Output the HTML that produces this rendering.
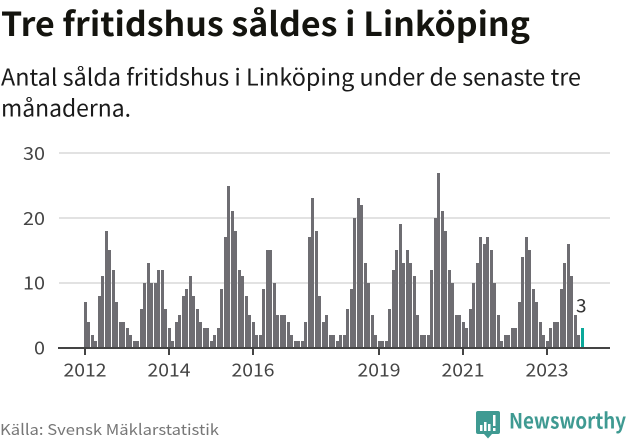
<!DOCTYPE html>
<html lang="sv">
<head>
<meta charset="utf-8">
<title>Tre fritidshus såldes i Linköping</title>
<style>
html,body{margin:0;padding:0;background:#fff;width:631px;height:439px;overflow:hidden}
svg{display:block}
text{font-family:"Noto Sans CJK SC","Liberation Sans",sans-serif}
</style>
</head>
<body>
<svg id="chart" width="631" height="439" viewBox="0 0 631 439" xmlns="http://www.w3.org/2000/svg">
  <text x="1" y="36" font-size="33" font-weight="700" fill="#14140f" textLength="529" lengthAdjust="spacingAndGlyphs">Tre fritidshus såldes i Linköping</text>
  <text x="1" y="85.5" font-size="23" fill="#1a1a1a" textLength="580" lengthAdjust="spacingAndGlyphs">Antal sålda fritidshus i Linköping under de senaste tre</text>
  <text x="1" y="116.5" font-size="23" fill="#1a1a1a" textLength="130" lengthAdjust="spacingAndGlyphs">månaderna.</text>
  <g id="grid"></g>
  <g id="ylabels"></g>
  <g id="bars"></g>
  <g id="axis"></g>
  <text id="last-label" font-size="19" fill="#333" textLength="10.5" lengthAdjust="spacingAndGlyphs"></text>
  <text x="0" y="435" font-size="15" fill="#777" textLength="219" lengthAdjust="spacingAndGlyphs">Källa: Svensk Mäklarstatistik</text>
  <g>
    <path d="M478 411H498Q500 411 500 413V432Q500 434 498 434H492L488 438.500L484 434H478Q476 434 476 432V413Q476 411 478 411Z" fill="#3f9a92"/>
    <g fill="#fff">
      <rect x="480" y="425" width="2.5" height="6"/>
      <rect x="484" y="422" width="2.5" height="9"/>
      <rect x="488" y="424" width="2.5" height="7"/>
      <rect x="493" y="415" width="2.5" height="11"/>
      <rect x="493" y="428" width="2.5" height="3"/>
    </g>
    <text x="509" y="428.500" font-size="21" font-weight="700" fill="#3f9a92" textLength="117" lengthAdjust="spacingAndGlyphs">Newsworthy</text>
  </g>
</svg>
<script>
const values2012 = [7,4,2,1,8,11,18,15,12,7,4,4];
const values2013 = [3,2,1,1,6,10,13,10,10,12,12,6];
const values2014 = [3,1,4,5,8,9,11,8,6,4,3,3];
const values2015 = [1,2,3,9,17,25,21,18,12,11,8,5];
const values2016 = [4,2,2,9,15,15,10,5,5,5,4,2];
const values2017 = [1,1,1,4,17,23,18,8,4,5,2,2];
const values2018 = [1,2,2,6,9,20,23,22,13,10,5,2];
const values2019 = [1,1,1,6,12,15,19,13,15,13,11,5];
const values2020 = [2,2,2,12,20,27,21,18,12,10,5,5];
const values2021 = [4,3,6,10,13,17,16,17,15,10,5,1];
const values2022 = [2,2,3,3,7,14,17,15,9,7,4,2];
const values2023 = [1,3,4,4,9,13,16,11,5,2,3];
const yTicks = [0,10,20,30];
const xTickYears = [2012,2014,2016,2019,2021,2023];
const startYear = 2012;

const series = [].concat(values2012,values2013,values2014,values2015,values2016,values2017,values2018,values2019,values2020,values2021,values2022,values2023);
const NS = 'http://www.w3.org/2000/svg';
const xBand = function(i){ return Math.floor(84 + 3.5 * i); };
const yScale = function(v){ return 347.5 - v * 6.48; };

function make(tag, attrs, parent){
  const el = document.createElementNS(NS, tag);
  for (const k in attrs) el.setAttribute(k, attrs[k]);
  parent.appendChild(el);
  return el;
}

const gridG = document.getElementById('grid');
const labelG = document.getElementById('ylabels');
yTicks.forEach(function(t){
  if (t > 0) {
    const line = make('rect', {x:59, y:Math.round(yScale(t))-1, width:551, height:2, fill:'#e2e2e2'}, gridG);
    
    
  }
  const label = String(t);
  const lab = make('text', {x:45, y:yScale(t)+7, 'font-size':18, fill:'#444', 'text-anchor':'end', textLength:label.length*11, lengthAdjust:'spacingAndGlyphs'}, labelG);
  
  
  lab.textContent = label;
});

const barsG = document.getElementById('bars');
series.forEach(function(v, i){
  const last = i === series.length - 1;
  const top = Math.round(yScale(v));
  const bar = make('rect', {x:xBand(i), y:top, width:3, height:347 - top, fill:last ? '#0aa89a' : '#6e6d72'}, barsG);
  
  
});

const axisG = document.getElementById('axis');
const baseline = make('rect', {x:58, y:347, width:552, height:2, fill:'#444'}, axisG);


xTickYears.forEach(function(yr){
  const i = (yr - startYear) * 12;
  const tick = make('rect', {x:xBand(i), y:347, width:2, height:8, fill:'#444'}, axisG);
  
  
  const lab = make('text', {x:xBand(i)+1, y:376.5, 'font-size':18, fill:'#444', 'text-anchor':'middle', textLength:43, lengthAdjust:'spacingAndGlyphs'}, axisG);
  
  
  lab.textContent = yr;
});

const lastLabel = document.getElementById('last-label');
const lastIndex = series.length - 1;
lastLabel.setAttribute('x', xBand(lastIndex) - 5);
lastLabel.setAttribute('y', yScale(series[lastIndex]) - 15.5);
lastLabel.textContent = series[lastIndex];
</script>
</body>
</html>
